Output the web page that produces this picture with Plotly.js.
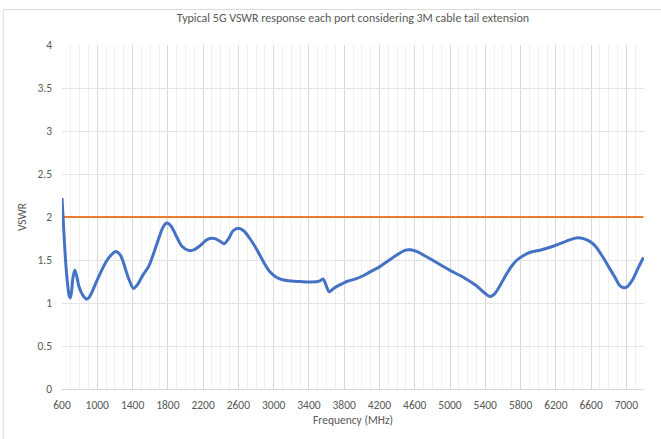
<!DOCTYPE html>
<html>
<head>
<meta charset="utf-8">
<script src="https://cdn.plot.ly/plotly-3.0.1.min.js"></script>
<style>
html,body{margin:0;padding:0;background:#fff;}
#chart{width:661px;height:439px;}
</style>
</head>
<body>
<div id="chart"></div>
<script>
// Frequency (MHz) sample points of the VSWR curve
var freqMHz = [600,620,640,660,680,695,710,725,745,765,790,820,850,880,910,950,1000,1050,1100,1150,1210,1260,1300,1350,1410,1460,1520,1580,1640,1700,1750,1790,1840,1900,1960,2040,2100,2170,2250,2330,2390,2440,2490,2540,2600,2660,2730,2810,2900,2960,3030,3100,3200,3300,3400,3500,3530,3560,3590,3630,3680,3750,3830,3930,4020,4110,4200,4300,4400,4480,4550,4620,4730,4880,5000,5150,5300,5400,5450,5500,5560,5620,5700,5760,5830,5910,6040,6170,6320,6450,6580,6650,6730,6800,6870,6920,6960,7010,7070,7130,7194];
var vswr = [2.22,1.85,1.50,1.25,1.09,1.06,1.15,1.30,1.38,1.32,1.20,1.12,1.07,1.045,1.07,1.15,1.27,1.38,1.48,1.55,1.60,1.56,1.46,1.30,1.17,1.22,1.33,1.42,1.58,1.76,1.89,1.93,1.89,1.77,1.66,1.61,1.62,1.67,1.74,1.75,1.72,1.69,1.75,1.84,1.87,1.84,1.75,1.62,1.45,1.36,1.30,1.27,1.255,1.25,1.245,1.25,1.26,1.28,1.22,1.13,1.17,1.21,1.25,1.28,1.32,1.37,1.42,1.49,1.56,1.61,1.62,1.60,1.54,1.45,1.38,1.30,1.20,1.11,1.075,1.10,1.19,1.30,1.43,1.50,1.55,1.59,1.62,1.66,1.72,1.76,1.72,1.66,1.54,1.42,1.30,1.21,1.18,1.19,1.27,1.40,1.53];
// Limit line
var limitFreq = [600, 7194];
var limitVswr = [2, 2];
var xTickVals = [600,1000,1400,1800,2200,2600,3000,3400,3800,4200,4600,5000,5400,5800,6200,6600,7000];
var yTickVals = [0,0.5,1,1.5,2,2.5,3,3.5,4];

var fontFam = "Calibri, Carlito, Lato, 'Liberation Sans', sans-serif";
var txtCol = '#595959';

var traces = [
  {x: limitFreq, y: limitVswr, mode: 'lines', line: {color: '#ED7D31', width: 2.2}, hoverinfo: 'skip', name: 'Limit'},
  {x: freqMHz, y: vswr, mode: 'lines', line: {color: '#4472C4', width: 3, shape: 'spline', smoothing: 0.8}, name: 'VSWR'}
];

var layout = {
  width: 661, height: 439,
  margin: {l: 62, r: 17, t: 45, b: 50},
  paper_bgcolor: '#ffffff', plot_bgcolor: '#ffffff',
  showlegend: false,
  font: {family: fontFam, color: txtCol, size: 11.5},
  title: {text: 'Typical 5G VSWR response each port considering 3M cable tail extension',
          x: 0.5, xref: 'paper', xanchor: 'center', y: 0.959, yref: 'container', yanchor: 'middle',
          font: {family: fontFam, size: 12, color: txtCol}},
  xaxis: {
    range: [600, 7200], tickmode: 'array', tickvals: xTickVals, ticktext: xTickVals.map(String),
    showgrid: true, gridcolor: '#d9d9d9', gridwidth: 1,
    minor: {dtick: 100, tick0: 600, showgrid: true, gridcolor: '#f0f0f0', gridwidth: 1, ticks: ''},
    zeroline: false, showline: true, linecolor: '#d9d9d9', linewidth: 1, ticks: '',
    ticklabelstandoff: 5,
    tickfont: {family: fontFam, size: 11.5, color: txtCol},
    title: {text: 'Frequency (MHz)', standoff: 5, font: {family: fontFam, size: 11.5, color: txtCol}}
  },
  yaxis: {
    range: [0, 4], tickmode: 'array', tickvals: yTickVals, ticktext: ['0','0.5','1','1.5','2','2.5','3','3.5','4'],
    showgrid: true, gridcolor: '#e4e4e4', gridwidth: 1,
    zeroline: false, showline: false, ticks: '',
    ticklabelstandoff: 9,
    tickfont: {family: fontFam, size: 11.5, color: txtCol},
    title: {text: 'VSWR', standoff: 8, font: {family: fontFam, size: 11.5, color: txtCol}}
  },
  shapes: [
    {type: 'line', xref: 'paper', yref: 'paper', x0: -0.101, x1: 1.05, y0: 1.103, y1: 1.103, line: {color: '#d9d9d9', width: 1}},
    {type: 'line', xref: 'paper', yref: 'paper', x0: -0.101, x1: -0.101, y0: 1.103, y1: -0.2, line: {color: '#d9d9d9', width: 1}}
  ]
};

Plotly.newPlot('chart', traces, layout, {displayModeBar: false, staticPlot: true});
</script>
</body>
</html>
